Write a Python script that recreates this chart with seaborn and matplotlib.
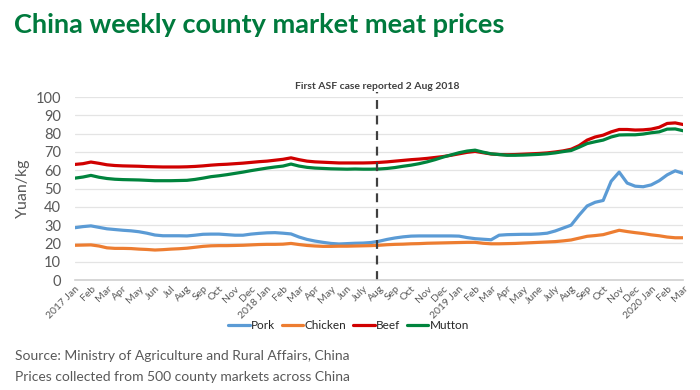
import matplotlib
matplotlib.use("Agg")
import matplotlib.pyplot as plt
import seaborn as sns
import numpy as np
import pandas as pd

# half-month steps, 0 = Jan 2017
t = np.arange(0, 38.5, 0.5)

pork = [28.6, 29.2, 29.6, 28.8, 28.0, 27.6, 27.2, 26.9, 26.4, 25.6,
        24.6, 24.2, 24.2, 24.2, 24.1, 24.5, 25.0, 25.1, 25.1, 24.8,
        24.5, 24.5, 25.1, 25.5, 25.8, 25.9, 25.6, 25.2, 23.5, 22.2,
        21.3, 20.6, 20.0, 19.7, 19.9, 20.1, 20.2, 20.5, 21.2, 22.2,
        23.0, 23.6, 24.0, 24.1, 24.1, 24.1, 24.1, 24.1, 24.0, 23.2,
        22.6, 22.3, 22.0, 24.5, 24.8, 24.9, 25.0, 25.0, 25.2, 25.6,
        26.8, 28.4, 30.0, 35.5, 40.5, 42.5, 43.5, 54.0, 59.0, 53.0,
        51.3, 51.0, 52.0, 54.3, 57.5, 59.7, 58.3]
chicken = [19.0, 19.1, 19.2, 18.6, 17.6, 17.3, 17.3, 17.2, 16.9, 16.7,
           16.4, 16.6, 16.9, 17.1, 17.4, 17.9, 18.4, 18.7, 18.8, 18.8,
           18.9, 19.0, 19.2, 19.4, 19.5, 19.5, 19.6, 20.0, 19.4, 18.9,
           18.6, 18.4, 18.4, 18.5, 18.5, 18.6, 18.7, 18.8, 19.0, 19.3,
           19.5, 19.6, 19.8, 19.9, 20.1, 20.2, 20.3, 20.4, 20.5, 20.6,
           20.6, 20.1, 19.8, 19.8, 19.9, 20.0, 20.2, 20.4, 20.6, 20.8,
           21.0, 21.4, 21.9, 22.9, 23.9, 24.3, 24.8, 26.0, 27.2, 26.5,
           25.9, 25.4, 24.7, 24.2, 23.5, 23.1, 23.1]
beef = [63.2, 63.6, 64.5, 63.8, 63.0, 62.6, 62.4, 62.3, 62.2, 62.0,
        61.9, 61.8, 61.8, 61.8, 61.9, 62.1, 62.4, 62.8, 63.1, 63.3,
        63.6, 63.9, 64.3, 64.7, 65.0, 65.5, 66.0, 66.8, 65.8, 65.0,
        64.6, 64.4, 64.2, 64.0, 64.0, 64.0, 64.0, 64.1, 64.3, 64.6,
        65.0, 65.4, 65.8, 66.1, 66.5, 67.0, 67.5, 68.2, 69.0, 69.8,
        70.3, 69.6, 68.9, 68.6, 68.5, 68.6, 68.8, 69.0, 69.2, 69.5,
        70.0, 70.6, 71.5, 73.5, 76.5, 78.2, 79.2, 81.0, 82.3, 82.3,
        82.0, 82.1, 82.5, 83.5, 85.6, 85.9, 85.0]
mutton = [55.7, 56.3, 57.2, 56.2, 55.5, 55.1, 54.9, 54.8, 54.7, 54.5,
          54.3, 54.3, 54.3, 54.4, 54.5, 55.0, 55.7, 56.5, 57.0, 57.6,
          58.3, 59.0, 59.8, 60.5, 61.2, 61.8, 62.3, 63.4, 62.3, 61.6,
          61.2, 61.0, 60.8, 60.7, 60.6, 60.7, 60.6, 60.6, 60.7, 61.0,
          61.5, 62.2, 62.8, 63.6, 64.6, 65.8, 67.2, 68.4, 69.6, 70.5,
          71.0, 69.9, 69.0, 68.6, 68.2, 68.2, 68.3, 68.5, 68.7, 69.0,
          69.5, 70.2, 70.8, 72.6, 74.6, 75.6, 76.5, 78.2, 79.3, 79.4,
          79.4, 79.8, 80.5, 81.0, 82.5, 82.6, 81.6]

month_labels = ["2017 Jan", "Feb", "Mar", "Apr", "May", "Jun", "Jul", "Aug", "Sep", "Oct", "Nov", "Dec",
                "2018 Jan", "Feb", "Mar", "Apr", "May", "Jun", "July", "Aug", "Sep", "Oct", "Nov", "Dec",
                "2019 Jan", "Feb", "Mar", "Apr", "May", "June", "July", "Aug", "Sep", "Oct", "Nov", "Dec",
                "2020 Jan", "Feb", "Mar"]

asf_month = 18.9

df = pd.DataFrame({"t": t, "Pork": pork, "Chicken": chicken, "Beef": beef, "Mutton": mutton})
df = df.melt(id_vars="t", var_name="meat", value_name="price")

sns.set_style("white")
plt.rcParams["font.family"] = ["Lato", "DejaVu Sans"]

colors = {"Pork": "#5B9BD5", "Chicken": "#ED7D31", "Beef": "#D00000", "Mutton": "#00843D"}

fig = plt.figure(figsize=(7, 3.9), dpi=100)
ax = fig.add_axes([0.107, 0.282, 0.869, 0.469])

sns.lineplot(data=df, x="t", y="price", hue="meat", palette=colors, linewidth=2.3, ax=ax)

ax.set_xlim(0, 38)
ax.set_ylim(0, 100)
ax.set_yticks(range(0, 101, 10))
ax.yaxis.grid(True, color="#e4e4e4", linewidth=0.9)
ax.set_axisbelow(True)
for s in ["top", "right", "left"]:
    ax.spines[s].set_visible(False)
ax.spines["bottom"].set_color("#d0d0d0")
ax.spines["bottom"].set_linewidth(1.2)

ax.set_xticks(range(len(month_labels)))
ax.set_xticklabels(month_labels, rotation=45, ha="right", rotation_mode="anchor", fontsize=7.5, color="#595959")
ax.tick_params(axis="x", length=0, pad=3)
ax.tick_params(axis="y", length=0, labelsize=10.5, labelcolor="#595959", pad=10)
ax.set_xlabel("")
ax.set_ylabel("Yuan/kg", fontsize=11.5, color="#595959", labelpad=4)

ax.axvline(asf_month, ymin=0, ymax=1.03, color="#404040", linestyle=(0, (4, 3)), linewidth=1.6, clip_on=False)
ax.text(asf_month, 103.5, "First ASF case reported 2 Aug 2018", ha="center", va="bottom",
        fontsize=7.5, fontweight="bold", color="#404040")

ax.legend(loc="upper center", bbox_to_anchor=(0.45, -0.16), ncol=4, frameon=False, fontsize=8.5,
          handlelength=1.8, handletextpad=0.1, columnspacing=0.6)

fig.text(0.02, 0.937, "China weekly county market meat prices", fontsize=19.5, fontweight="bold",
         color="#007A3D", ha="left", va="center")
fig.text(0.022, 0.088, "Source: Ministry of Agriculture and Rural Affairs, China", fontsize=10,
         color="#595959", ha="left", va="center")
fig.text(0.022, 0.033, "Prices collected from 500 county markets across China", fontsize=10,
         color="#595959", ha="left", va="center")

fig.savefig("out.png", dpi=100)
